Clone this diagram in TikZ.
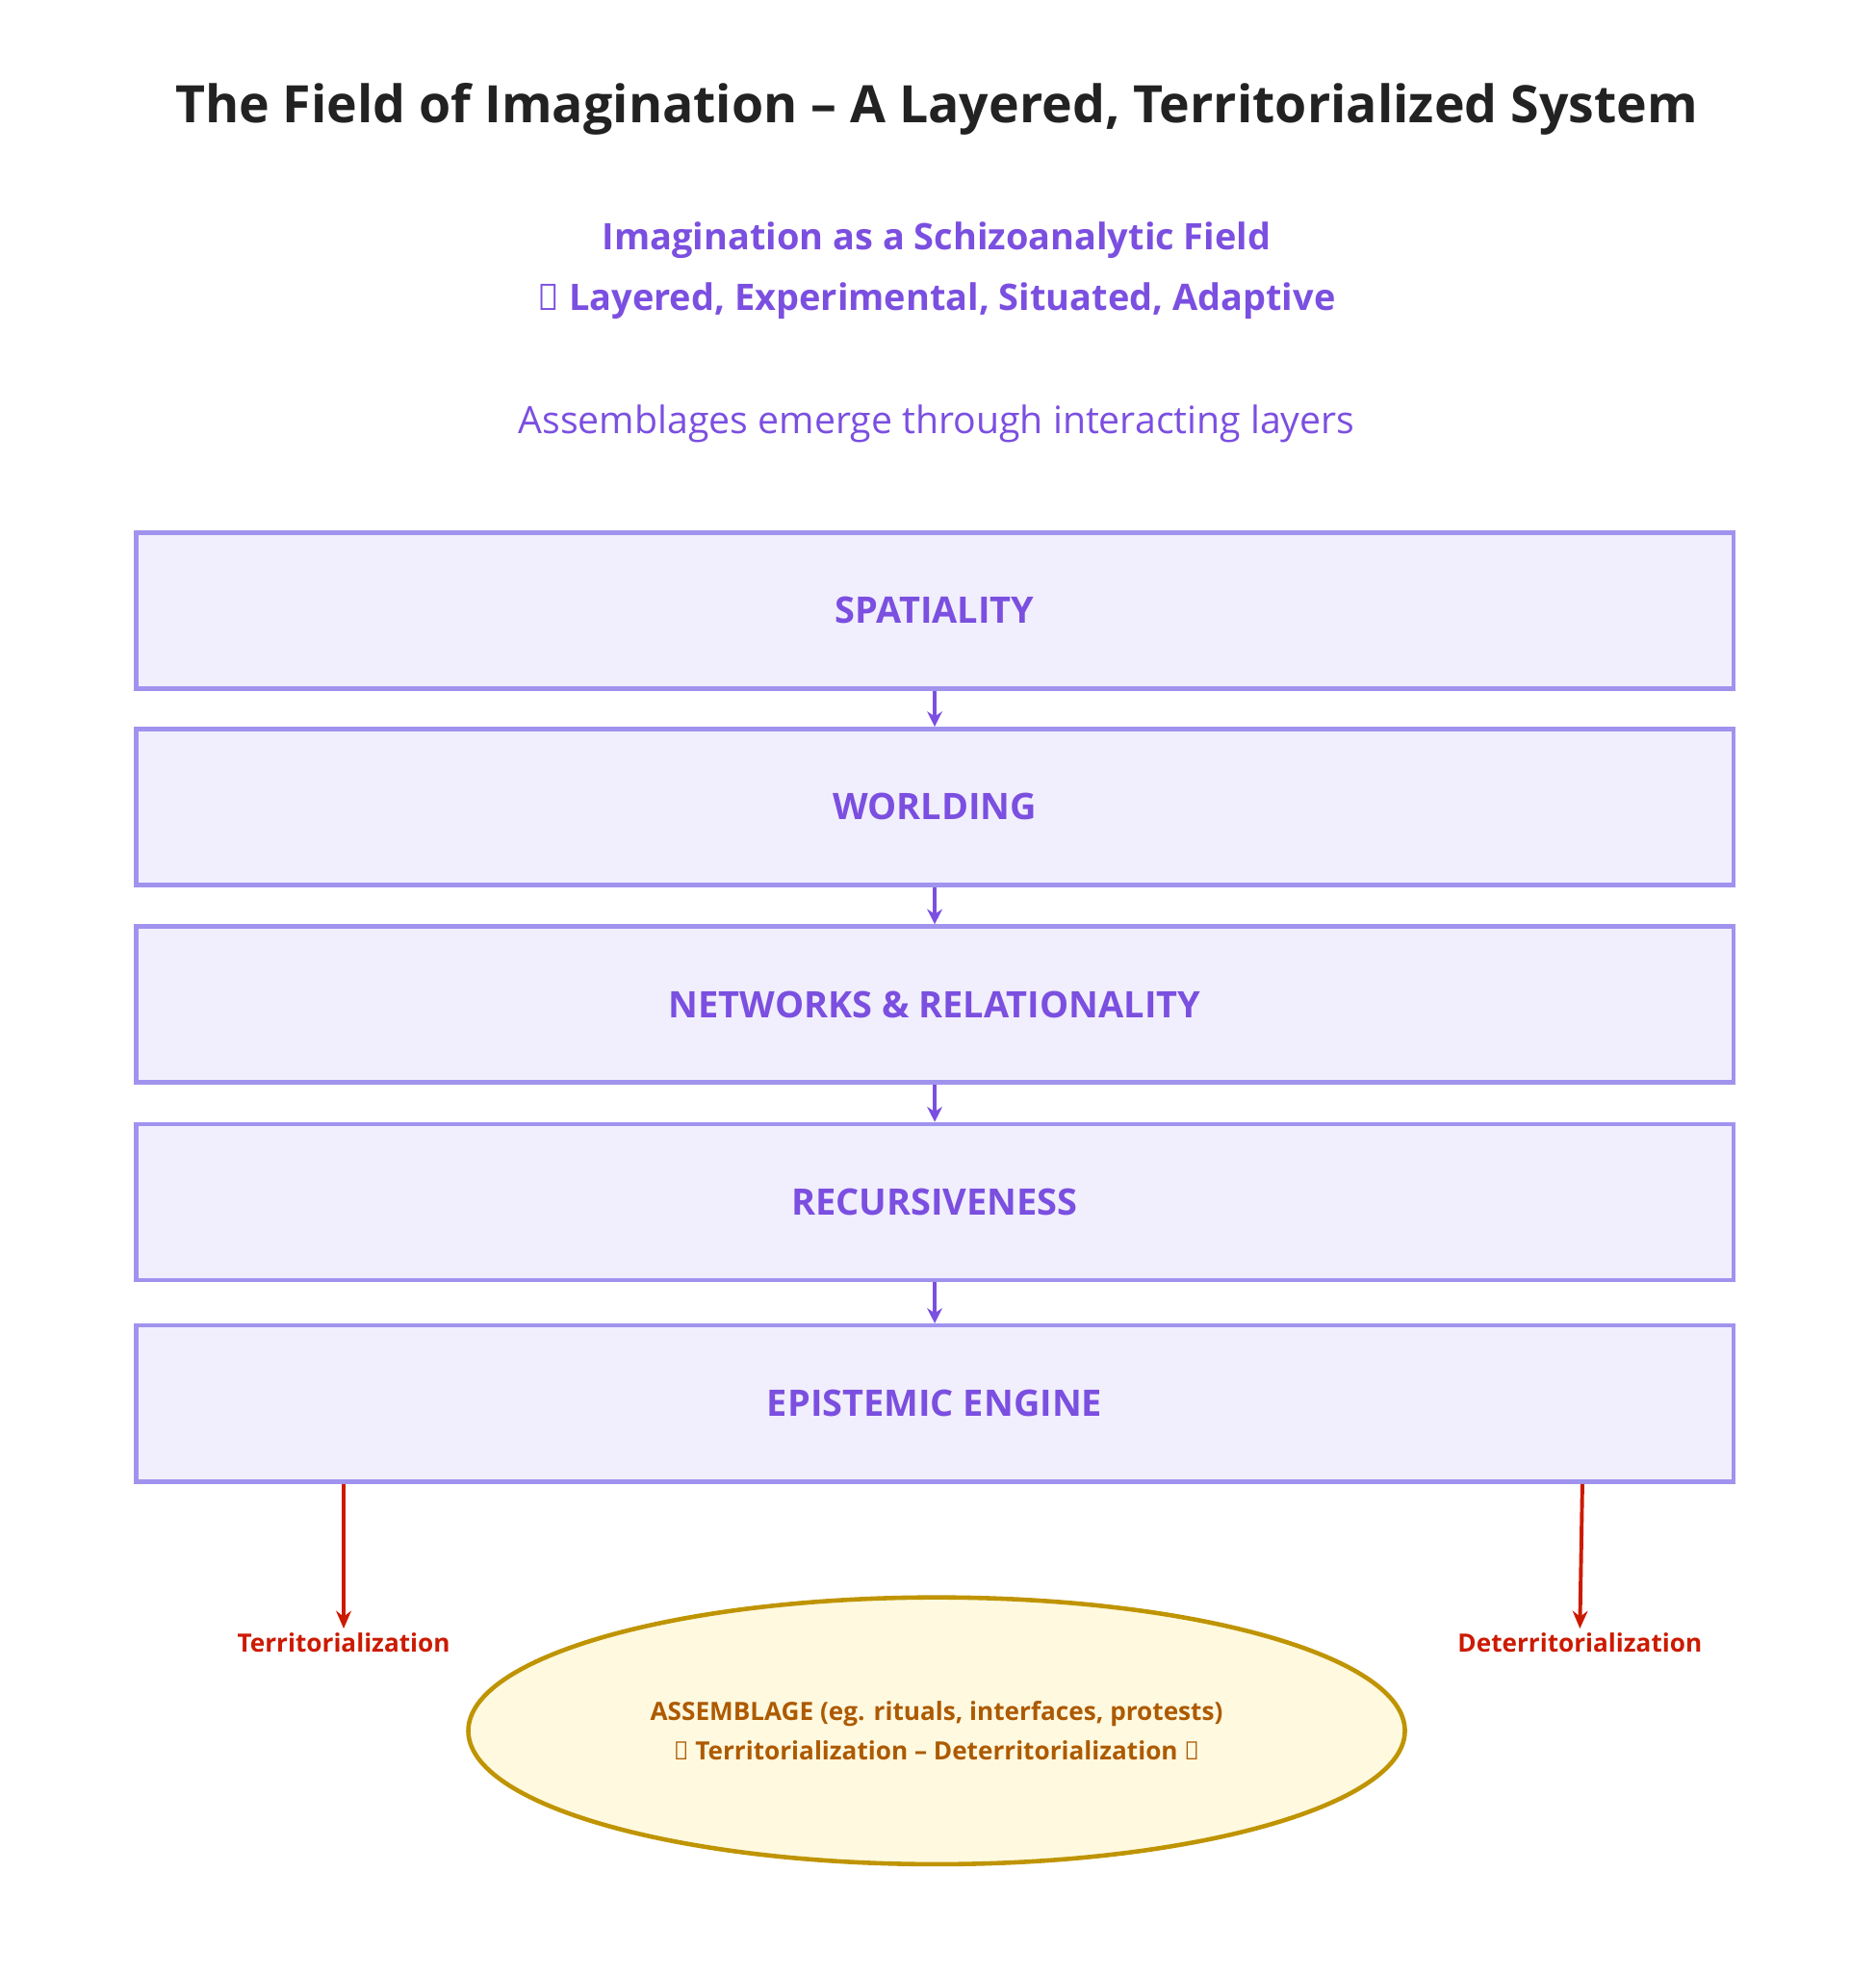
\documentclass[tikz,border=0pt]{standalone}
\usepackage{fontspec}
\setmainfont{Open Sans}
\usetikzlibrary{shapes.geometric,arrows.meta}
\definecolor{pur}{HTML}{7B4FE0}
\definecolor{bord}{HTML}{A093EE}
\definecolor{bfill}{HTML}{F1EFFD}
\definecolor{efill}{HTML}{FFF9E0}
\definecolor{ebord}{HTML}{BF9400}
\definecolor{etext}{HTML}{AD5A00}
\definecolor{redc}{HTML}{CC1A00}
\tikzset{
 layer/.style={draw=bord,fill=bfill,line width=3.5pt,minimum width=1269pt,minimum height=124pt,text=pur,font=\fontsize{29}{36}\selectfont\bfseries},
 flow/.style={draw=pur,line width=3pt,-{Stealth[length=12pt,width=12pt]}},
 redarr/.style={draw=redc,line width=3pt,-{Stealth[length=14pt,width=12pt]}},
 redlab/.style={text=redc,font=\fontsize{20}{25}\selectfont\bfseries}
}
\begin{document}
\begin{tikzpicture}[x=1pt,y=-1pt]
\useasboundingbox (0,0) rectangle (1490,1569);
\node (title) at (744,87) {\fontsize{41}{50}\selectfont\bfseries\color[HTML]{222222}The Field of Imagination – A Layered, Territorialized System};
\node[align=center,text=pur,font=\fontsize{29}{48}\selectfont\bfseries] (sub) at (744,215) {Imagination as a Schizoanalytic Field\\→ Layered, Experimental, Situated, Adaptive};
\node[text=pur,font=\fontsize{30}{36}\selectfont] (asm) at (744,337) {Assemblages emerge through interacting layers};
\node[layer] (l1) at (742.5,485) {SPATIALITY};
\node[layer] (l2) at (742.5,641) {WORLDING};
\node[layer] (l3) at (742.5,798) {NETWORKS \& RELATIONALITY};
\node[layer] (l4) at (742.5,955) {RECURSIVENESS};
\node[layer] (l5) at (742.5,1115) {EPISTEMIC ENGINE};
\draw[flow] (l1.south) -- (l2.north);
\draw[flow] (l2.south) -- (l3.north);
\draw[flow] (l3.south) -- (l4.north);
\draw[flow] (l4.south) -- (l5.north);
\node[draw=ebord,fill=efill,line width=3.5pt,ellipse,minimum width=744pt,minimum height=212pt,align=center,text=etext,font=\fontsize{20}{31}\selectfont\bfseries] (ass) at (744,1375) {ASSEMBLAGE (eg. rituals, interfaces, protests)\\← Territorialization – Deterritorialization →};
\node[redlab] (tl) at (273,1305) {Territorialization};
\node[redlab] (dl) at (1255,1305) {Deterritorialization};
\coordinate (t0) at (273,1179);
\coordinate (d0) at (1257,1179);
\draw[redarr] (t0) -- (tl.north);
\draw[redarr] (d0) -- (dl.north);
\end{tikzpicture}
\end{document}
